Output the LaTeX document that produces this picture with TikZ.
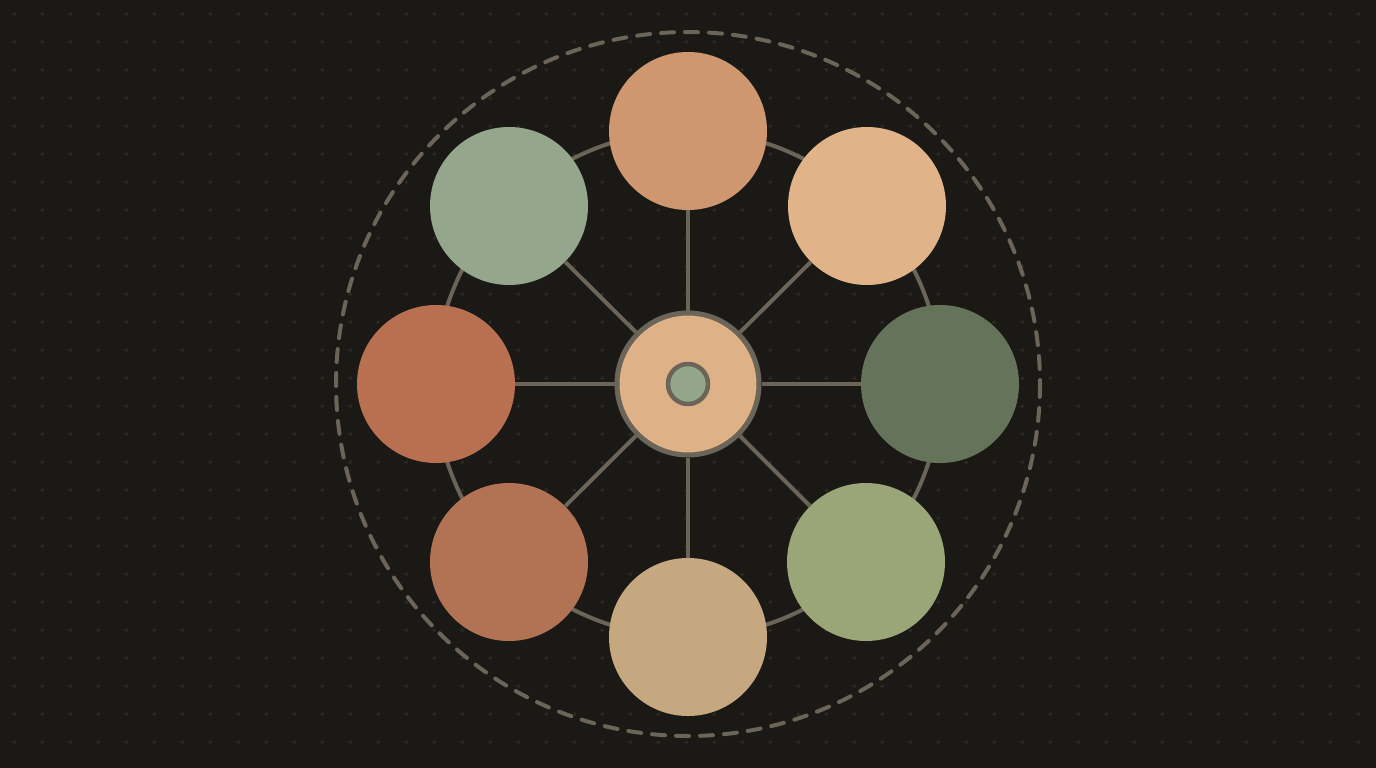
\documentclass[tikz,border=0pt]{standalone}
\usepackage{tikz}
\usetikzlibrary{positioning,backgrounds}
\definecolor{bgcolor}{RGB}{27,25,21}
\definecolor{gridcolor}{RGB}{48,45,40}
\definecolor{linecolor}{RGB}{107,100,88}
\definecolor{huecolor}{RGB}{222,177,134}
\definecolor{coreclr}{RGB}{147,166,139}
\definecolor{topcolor}{RGB}{207,151,112}
\definecolor{toprcolor}{RGB}{224,179,137}
\definecolor{rightcolor}{RGB}{101,115,91}
\definecolor{botrcolor}{RGB}{154,165,120}
\definecolor{botcolor}{RGB}{198,168,128}
\definecolor{botlcolor}{RGB}{178,114,84}
\definecolor{leftcolor}{RGB}{184,112,80}
\definecolor{toplcolor}{RGB}{148,166,140}

\begin{document}
\begin{tikzpicture}[x=1pt, y=-1pt,
  satellite/.style={circle, minimum size=158pt, inner sep=0pt},
  hub/.style={circle, draw=linecolor, line width=5pt, minimum size=142pt, inner sep=0pt, fill=huecolor},
  core/.style={circle, draw=linecolor, line width=4.5pt, minimum size=40pt, inner sep=0pt, fill=coreclr},
  spoke/.style={draw=linecolor, line width=4pt},
  ring/.style={draw=linecolor, line width=4pt},
  orbit/.style={draw=linecolor, line width=4pt, line cap=round, dash pattern=on 13pt off 11pt}
]

% Background and dot grid
\fill[bgcolor] (0,0) rectangle (1376,768);
\useasboundingbox (0,0) rectangle (1376,768);
\foreach \i in {0,...,48} {
  \foreach \j in {0,...,26} {
    \draw[gridcolor, line width=1pt] (14+28*\i-2,14+28*\j) -- ++(4,0) (14+28*\i,14+28*\j-2) -- ++(0,4);
  }
}

% Orbit and ring
\draw[orbit] (688,384) circle (352);
\draw[ring] (688,384) circle (253);

% Hub
\node[hub] (hub) at (688,384) {};
\node[core] (core) at (688,384) {};

% Satellites
\node[satellite, fill=topcolor] (top) at (688,131) {};
\node[satellite, fill=toprcolor] (topr) at (867,206) {};
\node[satellite, fill=rightcolor] (right) at (940,384) {};
\node[satellite, fill=botrcolor] (botr) at (866,562) {};
\node[satellite, fill=botcolor] (bot) at (688,637) {};
\node[satellite, fill=botlcolor] (botl) at (509,562) {};
\node[satellite, fill=leftcolor] (left) at (436,384) {};
\node[satellite, fill=toplcolor] (topl) at (509,206) {};

% Spokes
\draw[spoke] (hub) -- (top);
\draw[spoke] (hub) -- (topr);
\draw[spoke] (hub) -- (right);
\draw[spoke] (hub) -- (botr);
\draw[spoke] (hub) -- (bot);
\draw[spoke] (hub) -- (botl);
\draw[spoke] (hub) -- (left);
\draw[spoke] (hub) -- (topl);

\end{tikzpicture}
\end{document}
